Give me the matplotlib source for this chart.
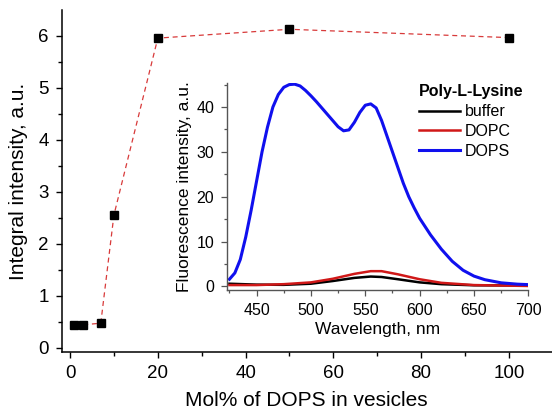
import numpy as np
import matplotlib.pyplot as plt
from matplotlib.ticker import MultipleLocator

plt.rcParams['font.family'] = ['Liberation Sans', 'DejaVu Sans']

# main panel: integral intensity vs DOPS fraction
mol_dops = [1, 3, 7, 10, 20, 50, 100]
integral = [0.44, 0.44, 0.47, 2.55, 5.95, 6.12, 5.96]

# inset: emission spectra
wl_dops = [425, 430, 435, 440, 445, 450, 455, 460, 465, 470, 475, 480, 485, 490,
           495, 500, 505, 510, 515, 520, 525, 530, 535, 540, 545, 550, 555, 560,
           565, 570, 575, 580, 585, 590, 595, 600, 610, 620, 630, 640, 650, 660,
           675, 690, 700]
fl_dops = [1.6, 3.0, 6.0, 11.0, 17.0, 23.5, 30.0, 35.5, 40.0, 42.8, 44.4, 45.0,
           45.1, 44.7, 43.7, 42.5, 41.2, 39.8, 38.4, 37.0, 35.6, 34.7, 34.9, 36.6,
           38.8, 40.4, 40.7, 39.8, 37.0, 33.5, 30.0, 26.5, 23.0, 20.0, 17.5, 15.2,
           11.5, 8.3, 5.6, 3.6, 2.3, 1.5, 0.8, 0.5, 0.4]
wl_ref = [425, 450, 475, 500, 520, 540, 555, 565, 580, 600, 620, 650, 700]
fl_dopc = [0.3, 0.3, 0.5, 0.9, 1.7, 2.8, 3.4, 3.4, 2.7, 1.6, 0.8, 0.3, 0.1]
fl_buffer = [0.6, 0.4, 0.35, 0.6, 1.2, 1.9, 2.2, 2.1, 1.6, 0.9, 0.5, 0.25, 0.2]

fig = plt.figure(figsize=(5.52, 4.11), dpi=100)
ax = fig.add_axes([0.1118, 0.1436, 0.888, 0.832])

ax.plot(mol_dops, integral, color='#d83a3a', ls=(0, (4, 3)), lw=0.9, zorder=2)
ax.plot(mol_dops, integral, ls='none', marker='s', ms=5.8, color='black', zorder=3)

ax.set_xlim(-1.9, 109.8)
ax.set_ylim(-0.083, 6.49)
ax.xaxis.set_major_locator(MultipleLocator(20))
ax.xaxis.set_minor_locator(MultipleLocator(10))
ax.yaxis.set_major_locator(MultipleLocator(1))
ax.yaxis.set_minor_locator(MultipleLocator(0.5))
ax.spines['top'].set_visible(False)
ax.spines['right'].set_visible(False)
for s in ['left', 'bottom']:
    ax.spines[s].set_linewidth(1.1)
ax.tick_params(which='both', direction='out', width=1.0, labelsize=13.5)
ax.tick_params(which='major', length=4.5, pad=5)
ax.tick_params(which='minor', length=3)
ax.set_xlabel('Mol% of DOPS in vesicles', fontsize=15, labelpad=6)
ax.set_ylabel('Integral intensity, a.u.', fontsize=15, labelpad=7)

# inset
ins = fig.add_axes([0.4107, 0.2944, 0.5464, 0.503])
ins.patch.set_alpha(0)
ins.plot(wl_ref, fl_buffer, color='black', lw=1.8, label='buffer')
ins.plot(wl_ref, fl_dopc, color='#d01818', lw=1.8, label='DOPC')
ins.plot(wl_dops, fl_dops, color='#1010ee', lw=2.2, label='DOPS')
ins.set_xlim(422.5, 700)
ins.set_ylim(-0.8, 45.3)
ins.xaxis.set_major_locator(MultipleLocator(50))
ins.xaxis.set_minor_locator(MultipleLocator(25))
ins.yaxis.set_major_locator(MultipleLocator(10))
ins.yaxis.set_minor_locator(MultipleLocator(5))
ins.spines['top'].set_visible(False)
ins.spines['right'].set_visible(False)
for s in ['left', 'bottom']:
    ins.spines[s].set_linewidth(1.0)
    ins.spines[s].set_color('#555555')
ins.tick_params(which='both', direction='out', width=0.9, labelsize=11.5, color='#555555')
ins.tick_params(which='major', length=4, pad=5)
ins.tick_params(which='minor', length=2.5)
ins.set_xlabel('Wavelength, nm', fontsize=12.5, labelpad=3)
ins.set_ylabel('Fluorescence intensity, a.u.', fontsize=12.5, labelpad=3)

leg = ins.legend(title='Poly-L-Lysine', loc='upper left', bbox_to_anchor=(0.637, 0.995),
                 frameon=False, fontsize=11.5, handlelength=2.6, handletextpad=0.3,
                 labelspacing=0.3, borderaxespad=0.0, borderpad=0.0)
leg.get_title().set_fontweight('bold')
leg.get_title().set_fontsize(11.5)
leg._legend_box.align = 'left'

fig.savefig('out.png', dpi=100)
